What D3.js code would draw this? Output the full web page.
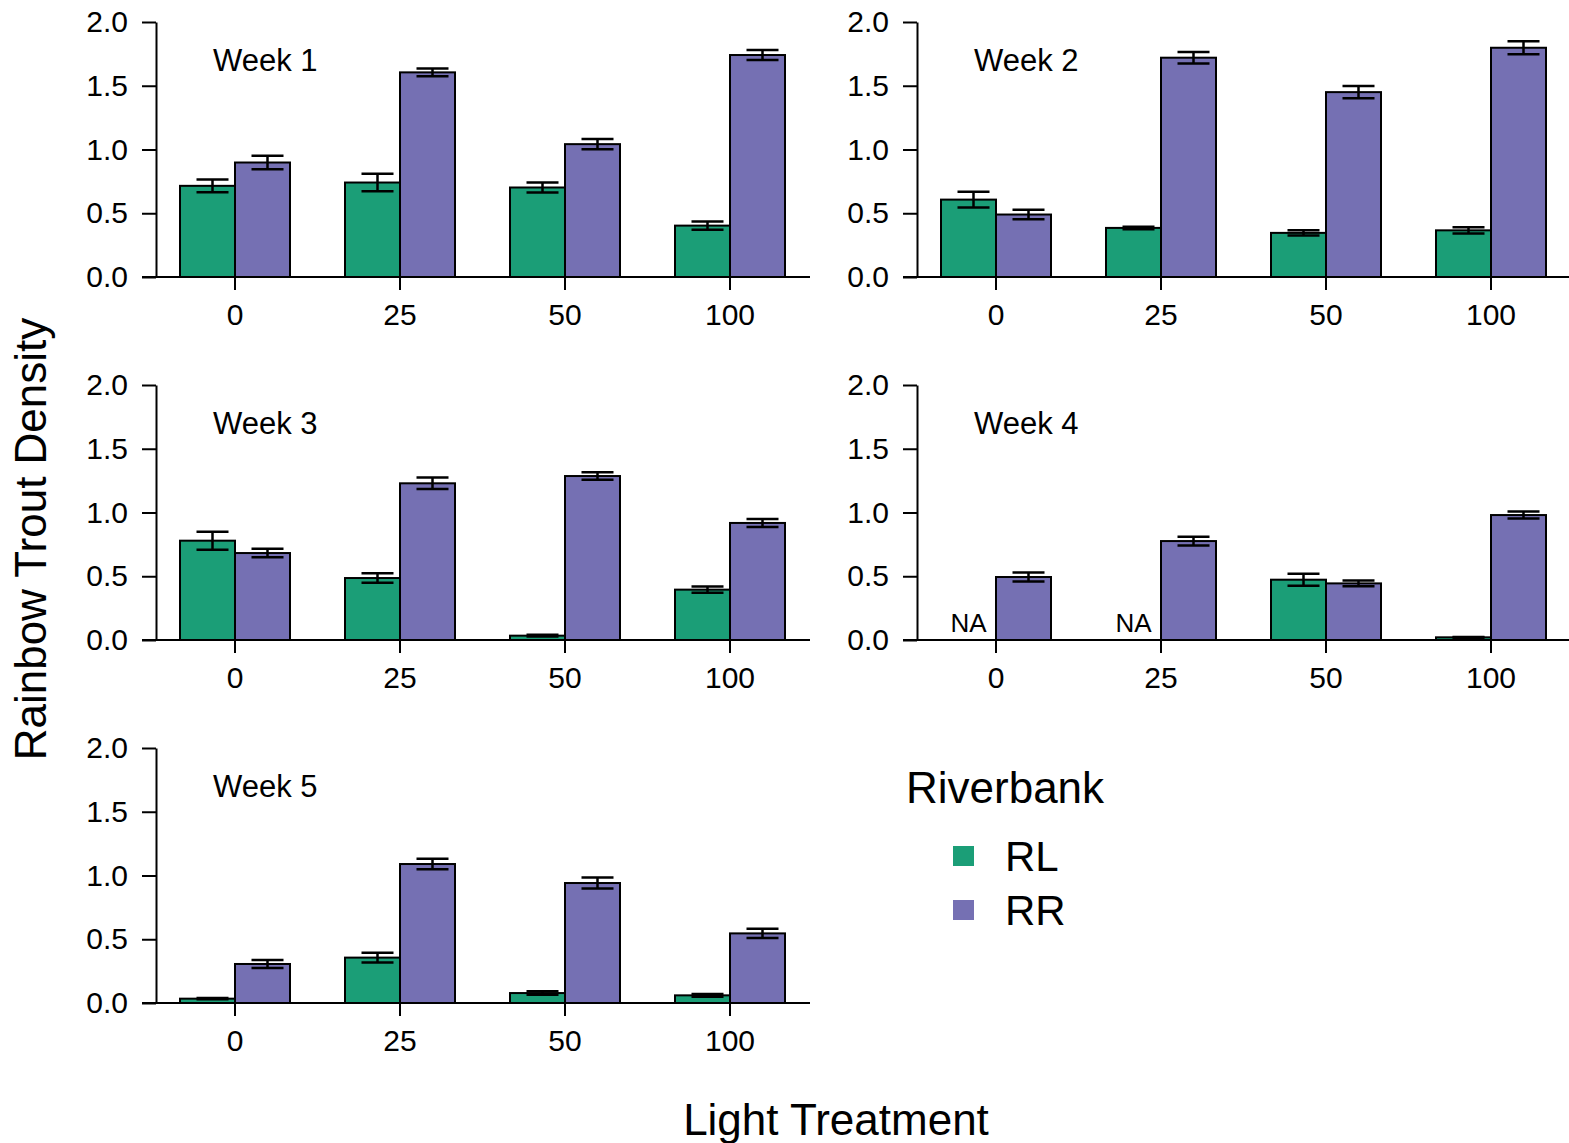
<!DOCTYPE html>
<html>
<head>
<meta charset="utf-8">
<script src="https://cdn.jsdelivr.net/npm/d3@7"></script>
<style>
  body { margin: 0; background: #fff; }
  svg text { font-family: "Liberation Sans", Arial, sans-serif; fill: #000; }
</style>
</head>
<body>
<div id="chart"></div>
<script>
var svgWidth = 1569;
var svgHeight = 1143;

// light treatment levels
var lightLevels = ["0", "25", "50", "100"];
var weeks = ["Week 1", "Week 2", "Week 3", "Week 4", "Week 5"];
var banks = ["RL", "RR"];
var bankColors = ["#1b9e77", "#7570b3"];

// mean density per week (rows) and light level (cols); null = NA
var rlMean = [
  [0.715, 0.741, 0.702, 0.403],
  [0.607, 0.385, 0.346, 0.366],
  [0.779, 0.486, 0.034, 0.395],
  [null, null, 0.473, 0.021],
  [0.034, 0.356, 0.078, 0.060]
];
var rlSE = [
  [0.050, 0.068, 0.040, 0.033],
  [0.062, 0.010, 0.021, 0.024],
  [0.071, 0.037, 0.007, 0.024],
  [null, null, 0.047, 0.003],
  [0.005, 0.039, 0.014, 0.011]
];
var rrMean = [
  [0.898, 1.605, 1.042, 1.741],
  [0.490, 1.720, 1.450, 1.798],
  [0.682, 1.229, 1.286, 0.918],
  [0.494, 0.776, 0.444, 0.980],
  [0.306, 1.090, 0.941, 0.546]
];
var rrSE = [
  [0.053, 0.030, 0.041, 0.040],
  [0.037, 0.045, 0.048, 0.051],
  [0.033, 0.045, 0.030, 0.032],
  [0.035, 0.034, 0.023, 0.027],
  [0.032, 0.041, 0.043, 0.036]
];
var yTicks = [0, 0.5, 1, 1.5, 2];

var svg = d3.select("#chart")
  .append("svg")
  .attr("width", svgWidth)
  .attr("height", svgHeight);

// panel geometry
var panelLeft = 156;   // y axis x position of first column
var colStep = 761;
var panelBase = 277;   // zero line of first row
var rowStep = 363;
var panelHeight = 255;

var yScale = d3.scaleLinear().domain([0, 2]).range([panelHeight, 0]);

// group band relative to y axis
var xScale = d3.scaleBand()
  .domain(lightLevels)
  .range([-3.5, 656.5])
  .paddingInner(1 / 3)
  .paddingOuter(1 / 6);

var subScale = d3.scaleBand()
  .domain(banks)
  .range([0, xScale.bandwidth()]);

weeks.forEach(function(week, w) {
  var col = w % 2;
  var row = Math.floor(w / 2);
  var g = svg.append("g")
    .attr("transform", `translate(${panelLeft + col * colStep}, ${panelBase + row * rowStep - panelHeight})`);

  // bars
  var rows = [];
  lightLevels.forEach(function(lv, i) {
    rows.push({ level: lv, bank: 0, mean: rlMean[w][i], se: rlSE[w][i] });
    rows.push({ level: lv, bank: 1, mean: rrMean[w][i], se: rrSE[w][i] });
  });

  var present = rows.filter(d => d.mean !== null);

  g.selectAll("rect.bar")
    .data(present)
    .enter()
    .append("rect")
    .attr("class", "bar")
    .attr("x", d => xScale(d.level) + subScale(banks[d.bank]))
    .attr("y", d => yScale(d.mean))
    .attr("width", subScale.bandwidth())
    .attr("height", d => yScale(0) - yScale(d.mean))
    .attr("fill", d => bankColors[d.bank])
    .attr("stroke", "#000")
    .attr("stroke-width", 2);

  // error bars
  var capHalf = 16;
  var errs = g.selectAll("g.err")
    .data(present)
    .enter()
    .append("g")
    .attr("class", "err")
    .attr("transform", d => `translate(${xScale(d.level) + subScale(banks[d.bank]) + subScale.bandwidth() / 2 + 5}, 0)`);

  errs.append("line")
    .attr("x1", 0).attr("x2", 0)
    .attr("y1", d => yScale(d.mean + d.se))
    .attr("y2", d => yScale(d.mean - d.se));
  errs.append("line")
    .attr("x1", -capHalf).attr("x2", capHalf)
    .attr("y1", d => yScale(d.mean + d.se))
    .attr("y2", d => yScale(d.mean + d.se));
  errs.append("line")
    .attr("x1", -capHalf).attr("x2", capHalf)
    .attr("y1", d => yScale(d.mean - d.se))
    .attr("y2", d => yScale(d.mean - d.se));
  errs.selectAll("line")
    .attr("stroke", "#000")
    .attr("stroke-width", 2.5);

  // NA labels
  g.selectAll("text.na")
    .data(rows.filter(d => d.mean === null))
    .enter()
    .append("text")
    .attr("class", "na")
    .attr("x", d => xScale(d.level) + subScale(banks[d.bank]) + subScale.bandwidth() / 2)
    .attr("y", yScale(0) - 8)
    .attr("text-anchor", "middle")
    .attr("font-size", "26px")
    .text("NA");

  // y axis
  var yAxis = g.append("g")
    .call(d3.axisLeft(yScale).tickValues(yTicks).tickFormat(d3.format(".1f"))
      .tickSize(14).tickSizeOuter(0).tickPadding(14));
  yAxis.select(".domain").attr("stroke-width", 2);
  yAxis.selectAll(".tick line").attr("stroke-width", 2);
  yAxis.selectAll("text").attr("font-size", "30px").attr("font-family", null);

  // x axis
  var xAxis = g.append("g")
    .attr("transform", `translate(0, ${panelHeight})`)
    .call(d3.axisBottom(xScale).tickSize(13).tickSizeOuter(0).tickPadding(14));
  xAxis.select(".domain").remove();
  xAxis.selectAll(".tick line").attr("stroke-width", 2);
  xAxis.selectAll("text").attr("font-size", "30px").attr("font-family", null);
  xAxis.append("line")
    .attr("x1", -14).attr("x2", 654)
    .attr("y1", 0).attr("y2", 0)
    .attr("stroke", "#000")
    .attr("stroke-width", 2);

  // week label
  g.append("text")
    .attr("x", 57)
    .attr("y", yScale(0) - 206)
    .attr("font-size", "31px")
    .text(week);
});

// axis titles
svg.append("text")
  .attr("transform", "translate(46, 539) rotate(-90)")
  .attr("text-anchor", "middle")
  .attr("font-size", "44px")
  .text("Rainbow Trout Density");

svg.append("text")
  .attr("x", 836)
  .attr("y", 1135)
  .attr("text-anchor", "middle")
  .attr("font-size", "44px")
  .text("Light Treatment");

// legend
var legend = svg.append("g").attr("transform", "translate(906, 803)");
legend.append("text")
  .attr("x", 0).attr("y", 0)
  .attr("font-size", "44px")
  .text("Riverbank");

var items = legend.selectAll("g.item")
  .data(banks)
  .enter()
  .append("g")
  .attr("class", "item")
  .attr("transform", (d, i) => `translate(0, ${53 + i * 54})`);
items.append("rect")
  .attr("x", 47).attr("y", -10)
  .attr("width", 21).attr("height", 20)
  .attr("fill", (d, i) => bankColors[i]);
items.append("text")
  .attr("x", 99).attr("y", 15)
  .attr("font-size", "42px")
  .text(d => d);
</script>
</body>
</html>
